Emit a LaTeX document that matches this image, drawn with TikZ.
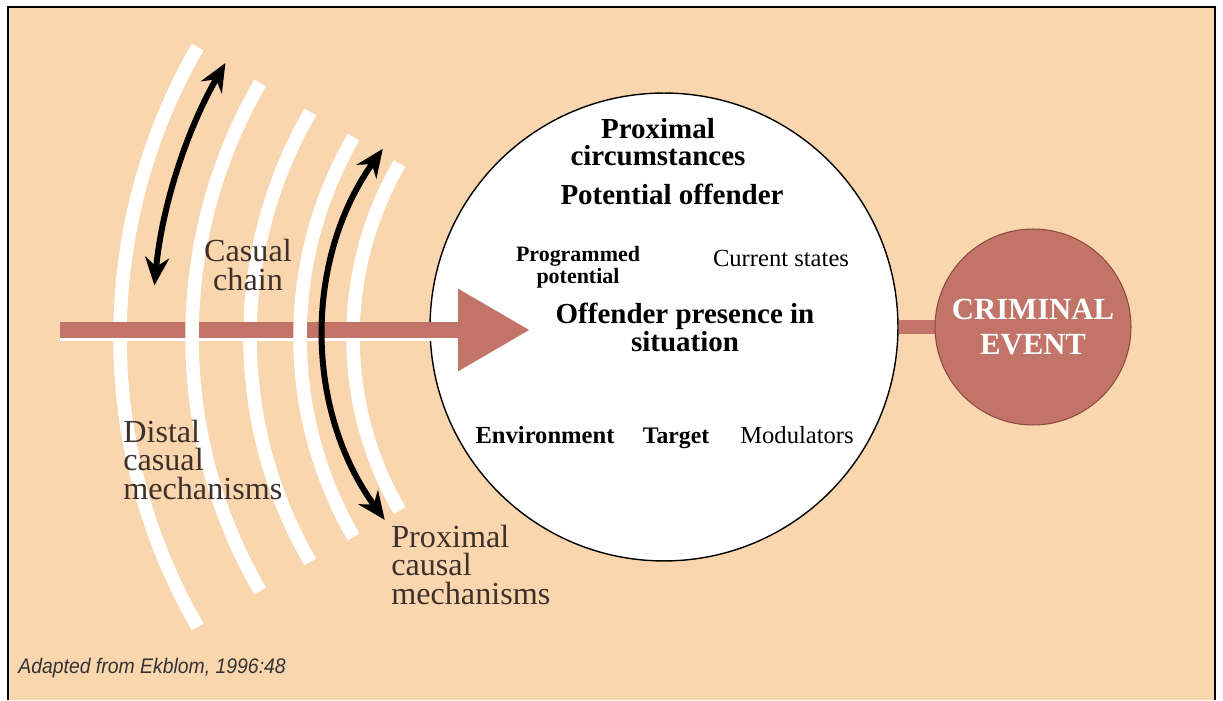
\documentclass[tikz,border=0pt]{standalone}
\usepackage{fontspec}
\setmainfont{Liberation Serif}
\newfontfamily\notefont[FakeStretch=0.92]{Liberation Sans}
\usetikzlibrary{arrows.meta,backgrounds}
\definecolor{peach}{RGB}{249,214,174}
\definecolor{brick}{RGB}{194,116,105}
\definecolor{brickdark}{RGB}{140,74,64}
\definecolor{inkbrown}{RGB}{62,48,42}
\tikzset{
  ring/.style={white,line width=0.27cm},
  flow/.style={brick,line width=0.32cm,-{Triangle[length=1.44cm,width=1.56cm]}},
  link/.style={brick,line width=0.28cm},
  swing/.style={black,line width=0.12cm,{Stealth[length=0.56cm,width=0.48cm]}-{Stealth[length=0.56cm,width=0.48cm]}},
  sitcircle/.style={circle,draw=black,line width=0.8pt,fill=white,minimum size=9.36cm,inner sep=0pt},
  eventcircle/.style={circle,draw=brickdark,line width=0.6pt,fill=brick,minimum size=3.92cm,inner sep=0pt,
    text=white,align=center,font=\bfseries\fontsize{17.5}{20}\selectfont},
  sidelabel/.style={text=inkbrown,inner sep=0pt,font=\fontsize{18.3}{16.2}\selectfont},
  headlabel/.style={inner sep=0pt,align=center,font=\bfseries\fontsize{16.5}{15.3}\selectfont},
  partlabel/.style={inner sep=0pt,anchor=base,font=\fontsize{14}{14}\selectfont}
}
\begin{document}
\begin{tikzpicture}[x=0.02cm,y=0.02cm]
  \useasboundingbox (0,0) rectangle (1223,700);
  \begin{pgfonlayer}{background}
    \fill[white] (0,0) rectangle (1223,700);
    \fill[peach] (8,0) rectangle (1215,693);
    \draw[line width=1.1pt] (8,0) -- (8,693) -- (1215,693) -- (1215,0);
  \end{pgfonlayer}

  \coordinate (hub) at (700,363);
  \coordinate (hub2) at (642,367);
  \coordinate (tail) at (60,370);
  \coordinate (head) at (530,370);

  \foreach \r in {580,450,347}
    \draw[ring] ([shift={(150:\r)}]hub) arc[start angle=150,end angle=210,radius=\r];

  \node[sitcircle] (sit) at (664,373) {};
  \node[eventcircle] (crime) at (1033,373) {CRIMINAL\\EVENT};
  \begin{pgfonlayer}{background}
    \draw[link] (sit.east) -- (crime.west);
  \end{pgfonlayer}

  \draw[flow] (tail) -- (head);
  \draw[white,line width=0.06cm] ([yshift=-0.2cm]tail) -- ++(398,0);

  \foreach \r in {508,400}
    \draw[ring] ([shift={(150:\r)}]hub) arc[start angle=150,end angle=210,radius=\r];

  \draw[swing] ([shift={(174.6:548)}]hub) arc[start angle=174.6,end angle=150,radius=548];
  \draw[swing] ([shift={(144.6:318)}]hub2) arc[start angle=144.6,end angle=216,radius=318];

  \node[sidelabel,align=center] (chain) at (248,435) {Casual\\chain};
  \node[sidelabel,align=left,anchor=west] (distal) at (123,240) {Distal\\casual\\mechanisms};
  \node[sidelabel,align=left,anchor=west] (proxmech) at (391,135) {Proximal\\causal\\mechanisms};
  \node[anchor=west,inner sep=0pt,text=black!80,font=\notefont\itshape\fontsize{12}{12}\selectfont] (source) at (18,32) {Adapted from Ekblom, 1996:48};

  \node[headlabel] (circum) at (658,558) {Proximal\\circumstances};
  \node[headlabel] (offender) at (672,506) {Potential offender};
  \node[headlabel,font=\bfseries\fontsize{12.5}{12.5}\selectfont] (programmed) at (578,433) {Programmed\\potential};
  \node[partlabel] (states) at (781,433) {Current states};
  \node[headlabel,font=\bfseries\fontsize{16.5}{14.7}\selectfont] (presence) at (685,373) {Offender presence in\\situation};
  \node[partlabel,font=\bfseries\fontsize{14}{14}\selectfont] (environ) at (545,256) {Environment};
  \node[partlabel,font=\bfseries\fontsize{13.5}{14}\selectfont] (target) at (676,256) {Target};
  \node[partlabel] (modul) at (797,256) {Modulators};
\end{tikzpicture}
\end{document}
